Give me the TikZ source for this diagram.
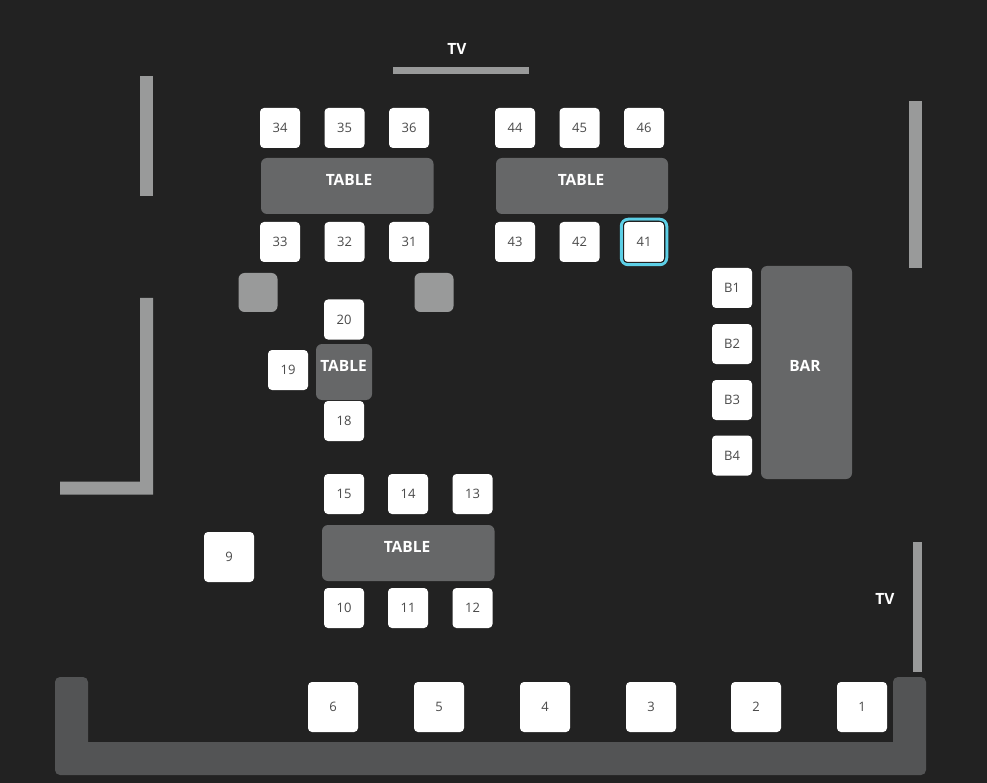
\documentclass[tikz,border=0pt]{standalone}
\usepackage{fontspec}
\setmainfont{Open Sans}
\usetikzlibrary{positioning}
\definecolor{floorcol}{HTML}{222222}
\definecolor{wallcol}{HTML}{999A9A}
\definecolor{tablecol}{HTML}{666768}
\definecolor{counter}{HTML}{535455}
\definecolor{seatfont}{HTML}{4A4A4A}
\definecolor{picked}{HTML}{5CCFE6}
\tikzset{
  seat/.style={rectangle,fill=white,rounded corners=4pt,minimum size=40pt,inner sep=0pt,text=seatfont,font=\fontsize{13}{13}\selectfont},
  bigseat/.style={seat,minimum size=50pt},
  wall/.style={fill=wallcol},
  tablebox/.style={fill=tablecol,rounded corners=6pt},
  boldlabel/.style={inner sep=0pt,text=white,font=\fontsize{15.5}{15.5}\selectfont\bfseries}
}
\begin{document}
\begin{tikzpicture}[x=1pt,y=-1pt]
\useasboundingbox (0,0) rectangle (987,783);
\fill[floorcol] (0,0) rectangle (987,783);
% walls
\fill[wall] (393,67.5) rectangle (529,74.5);
\fill[wall] (140,76) rectangle (153,196);
\fill[wall] (909,101) rectangle (922,268);
\fill[wall] (140,298) -- (153,298) -- (153,494.5) -- (60,494.5) -- (60,481.5) -- (140,481.5) -- cycle;
\fill[wall] (913,542) rectangle (922,672);
% counter along the bottom
\fill[counter,rounded corners=5pt] (55,677) -- (88,677) -- (88,742) [sharp corners] -- (88,742) -- (893,742) [rounded corners=5pt] -- (893,677) -- (926,677) -- (926,775) -- (55,775) -- cycle;
% tables
\fill[tablebox] (261,158) rectangle (433.5,214);
\fill[tablebox] (496,158) rectangle (668,214);
\fill[tablebox] (316,344) rectangle (372,400);
\fill[tablebox] (322,525) rectangle (494.5,581);
\fill[tablebox] (761,266) rectangle (852,479);
\node[boldlabel] (table3) at (349,179.5) {TABLE};
\node[boldlabel] (table4) at (581,179.5) {TABLE};
\node[boldlabel] (table2) at (343.5,366) {TABLE};
\node[boldlabel] (table1) at (407,546.5) {TABLE};
\node[boldlabel] (bar) at (805,366) {BAR};
\node[boldlabel] (tvtop) at (457,49) {TV};
\node[boldlabel] (tvside) at (885,598.5) {TV};
% stools without number
\node[seat,fill=wallcol,minimum size=39pt,rounded corners=6pt] (stool1) at (258,292.5) {};
\node[seat,fill=wallcol,minimum size=39pt,rounded corners=6pt] (stool2) at (434,292.5) {};
% seats
\foreach \name/\x/\y in {34/280/128,35/344.5/128,36/409/128,33/280/242,32/344.5/242,31/409/242,
  44/515/128,45/579.5/128,46/644/128,43/515/242,42/579.5/242,
  20/344/319.5,19/288/370,18/344/421,
  15/344/494,14/408/494,13/472.5/494,10/344/608,11/408/608,12/472.5/608,
  B1/732/288,B2/732/344,B3/732/400,B4/732/455.5}
  \node[seat] (s\name) at (\x,\y) {\name};
\node[seat,fill=none,draw=picked,line width=3pt,minimum size=45.5pt,rounded corners=7pt] (ring41) at (644,242) {};
\node[seat,draw=floorcol,line width=1pt,minimum size=41pt] (s41) at (644,242) {41};
\foreach \name/\x in {6/333,5/439,4/545,3/651,2/756,1/862}
  \node[bigseat] (s\name) at (\x,707) {\name};
\node[bigseat] (s9) at (229,557) {9};
\end{tikzpicture}
\end{document}
